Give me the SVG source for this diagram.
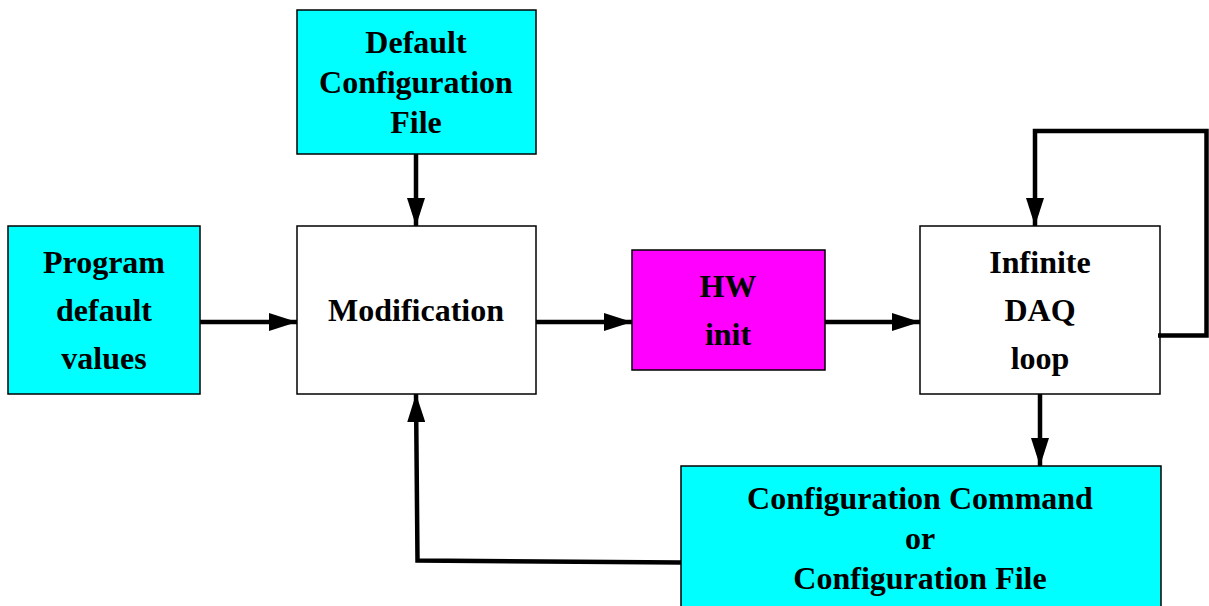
<svg xmlns="http://www.w3.org/2000/svg" width="1209" height="606" viewBox="0 0 1209 606">
<defs>
<style>
.box{stroke:#000;stroke-width:1.5}
.cyan{fill:#00ffff}
.white{fill:#fff}
.mag{fill:#ff00ff}
.t{font-family:"Liberation Serif","Times New Roman",serif;font-weight:bold;font-size:32px;text-anchor:middle;fill:#000}
.c{fill:none;stroke:#000;stroke-width:4.5;stroke-linejoin:miter}
</style>
<marker id="ah" markerUnits="userSpaceOnUse" markerWidth="28" markerHeight="18" refX="28" refY="9" orient="auto">
<path d="M0,0 L28,9 L0,18 Z" fill="#000"/>
</marker>
</defs>
<rect width="1209" height="606" fill="#fff"/>
<g id="n-default-config">
<rect class="box cyan" x="297" y="10" width="239" height="144"/>
<text class="t" x="416" y="53">Default</text>
<text class="t" x="416" y="93">Configuration</text>
<text class="t" x="416" y="133">File</text>
</g>
<g id="n-program-defaults">
<rect class="box cyan" x="8" y="226" width="192" height="168"/>
<text class="t" x="104" y="273">Program</text>
<text class="t" x="104" y="321">default</text>
<text class="t" x="104" y="369">values</text>
</g>
<g id="n-modification">
<rect class="box white" x="297" y="226" width="239" height="168"/>
<text class="t" x="416" y="321">Modification</text>
</g>
<g id="n-hw-init">
<rect class="box mag" x="632" y="250" width="193" height="120"/>
<text class="t" x="728" y="297">HW</text>
<text class="t" x="728" y="345">init</text>
</g>
<g id="n-daq-loop">
<rect class="box white" x="920" y="226" width="240" height="168"/>
<text class="t" x="1040" y="273">Infinite</text>
<text class="t" x="1040" y="321">DAQ</text>
<text class="t" x="1040" y="369">loop</text>
</g>
<g id="n-config-cmd">
<rect class="box cyan" x="681" y="466" width="480" height="150"/>
<text class="t" x="920" y="509">Configuration Command</text>
<text class="t" x="920" y="549">or</text>
<text class="t" x="920" y="589">Configuration File</text>
</g>
<g id="connectors">
<path class="c" d="M416,154 L416,226" marker-end="url(#ah)"/>
<path class="c" d="M200,322 L297,322" marker-end="url(#ah)"/>
<path class="c" d="M536,322 L632,322" marker-end="url(#ah)"/>
<path class="c" d="M825,322 L920,322" marker-end="url(#ah)"/>
<path class="c" d="M1040,394 L1040,466" marker-end="url(#ah)"/>
<path class="c" d="M1158,335.5 L1206.5,335.5 L1206.5,131 L1035,131 L1035,226" marker-end="url(#ah)"/>
<path class="c" d="M681,562.5 L417.5,560.5 L416,394" marker-end="url(#ah)"/>
</g>
</svg>
